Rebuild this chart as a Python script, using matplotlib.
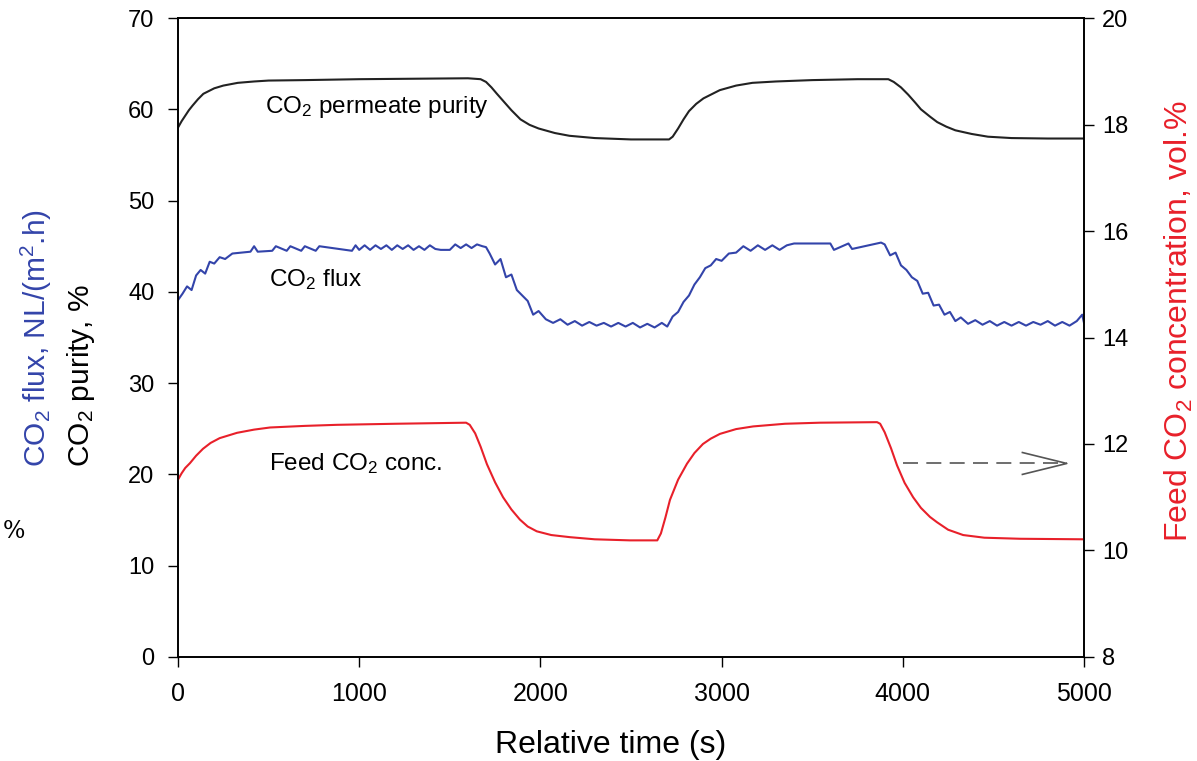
import matplotlib
matplotlib.use('Agg')
import matplotlib.pyplot as plt

plt.rcParams['font.family'] = ['Liberation Sans', 'DejaVu Sans']
plt.rcParams['mathtext.fontset'] = 'custom'
plt.rcParams['mathtext.rm'] = 'Liberation Sans'
plt.rcParams['mathtext.it'] = 'Liberation Sans:italic'

# CO2 permeate purity (%), left axis
purity_t = [0, 20, 40, 60, 80, 110, 140, 170, 200, 250, 330, 420, 500, 700,
            1000, 1300, 1600, 1670, 1700, 1730, 1760, 1800, 1840, 1890, 1940,
            1990, 2080, 2160, 2300, 2500, 2710,
            2730, 2760, 2790, 2820, 2860, 2900, 2950, 2990, 3080, 3170, 3300,
            3500, 3750, 3920,
            3950, 3990, 4030, 4070, 4100, 4150, 4190, 4240, 4290, 4380, 4470,
            4600, 4800, 5000]
purity_v = [58.0, 58.7, 59.3, 59.9, 60.4, 61.1, 61.7, 62.0, 62.3, 62.6, 62.9, 63.05, 63.15, 63.2,
            63.3, 63.35, 63.4, 63.3, 63.0, 62.4, 61.7, 60.8, 59.9, 58.9, 58.3,
            57.9, 57.4, 57.1, 56.85, 56.7, 56.7,
            57.0, 57.9, 58.9, 59.8, 60.6, 61.2, 61.7, 62.1, 62.6, 62.9, 63.05,
            63.2, 63.3, 63.3,
            63.0, 62.4, 61.6, 60.7, 60.0, 59.2, 58.6, 58.1, 57.7, 57.3, 57.0,
            56.85, 56.8, 56.8]

# CO2 flux NL/(m2.h), left axis
flux_t = [0, 25, 50, 75, 100, 125, 150, 175, 200, 230, 260, 300,
          350, 400, 420, 440, 520, 540, 600, 620, 680, 700, 760, 780, 960, 980,
          1000, 1030, 1060, 1090, 1120, 1150, 1180, 1210, 1240, 1270, 1300, 1330,
          1360, 1390, 1420, 1450, 1500, 1530, 1560, 1590, 1620, 1650, 1680, 1700,
          1720, 1750, 1780, 1810, 1840, 1870, 1900, 1930, 1960, 1990,
          2030, 2070, 2110, 2150, 2190, 2230, 2270, 2310, 2350, 2390, 2430, 2470,
          2510, 2550, 2590, 2630, 2670,
          2700, 2730, 2760, 2790, 2820, 2850, 2880, 2910, 2940, 2970, 3000,
          3040, 3080, 3120, 3160, 3200, 3240, 3280, 3320, 3360, 3400,
          3600, 3620, 3700, 3720, 3880, 3900,
          3930, 3960, 3990, 4020, 4050, 4080, 4110, 4140, 4170, 4200, 4230, 4260,
          4290, 4320,
          4360, 4400, 4440, 4480, 4520, 4560, 4600, 4640, 4680, 4720, 4760, 4800,
          4840, 4880, 4920, 4960, 4990, 5000]
flux_v = [39.1, 39.8, 40.6, 40.2, 41.8, 42.4, 42.0, 43.3, 43.1, 43.8, 43.6, 44.2,
          44.3, 44.4, 45.0, 44.4, 44.5, 45.0, 44.5, 45.0, 44.5, 45.0, 44.5, 45.0, 44.5, 45.1,
          44.6, 45.1, 44.6, 45.1, 44.7, 45.1, 44.6, 45.1, 44.7, 45.1, 44.6, 45.0,
          44.6, 45.1, 44.7, 44.6, 44.6, 45.2, 44.8, 45.2, 44.8, 45.2, 45.0, 44.9,
          44.2, 43.0, 43.6, 41.6, 41.9, 40.2, 39.6, 39.0, 37.5, 37.9,
          37.0, 36.6, 37.0, 36.4, 36.8, 36.3, 36.7, 36.3, 36.6, 36.2, 36.6, 36.2,
          36.6, 36.1, 36.5, 36.1, 36.6,
          36.2, 37.3, 37.8, 38.9, 39.6, 40.8, 41.6, 42.6, 42.9, 43.6, 43.4,
          44.2, 44.3, 45.0, 44.5, 45.1, 44.6, 45.1, 44.6, 45.1, 45.3,
          45.3, 44.6, 45.3, 44.7, 45.4, 45.2,
          44.0, 44.3, 42.9, 42.4, 41.6, 41.2, 39.8, 39.9, 38.5, 38.6, 37.5, 37.8,
          36.8, 37.2,
          36.5, 36.9, 36.4, 36.8, 36.3, 36.7, 36.3, 36.7, 36.3, 36.7, 36.4, 36.8,
          36.3, 36.7, 36.3, 36.8, 37.5, 36.6]

# feed CO2 concentration (vol.%), right axis
feed_t = [0, 20, 40, 66, 100, 138, 180, 230, 326, 420, 508, 700, 877, 1200,
          1590, 1610, 1640, 1670, 1705, 1750, 1794, 1840, 1887, 1930, 1980,
          2060, 2163, 2300, 2494, 2645,
          2665, 2690, 2715, 2760, 2809, 2850, 2897, 2940, 2991, 3080, 3174,
          3350, 3543, 3858,
          3875, 3900, 3935, 3968, 4010, 4057, 4100, 4150, 4189, 4250, 4333,
          4450, 4647, 5000]
feed_v = [11.33, 11.45, 11.55, 11.64, 11.78, 11.91, 12.02, 12.11, 12.21, 12.27, 12.31, 12.34, 12.36, 12.38,
          12.40, 12.36, 12.20, 11.95, 11.62, 11.28, 11.00, 10.77, 10.58, 10.45, 10.36,
          10.29, 10.25, 10.21, 10.19, 10.19,
          10.32, 10.62, 10.95, 11.33, 11.63, 11.83, 12.00, 12.10, 12.19, 12.28, 12.33,
          12.38, 12.40, 12.41,
          12.38, 12.22, 11.92, 11.60, 11.27, 11.00, 10.80, 10.63, 10.53, 10.39, 10.29,
          10.24, 10.22, 10.21]

fig = plt.figure(figsize=(11.97, 7.61), dpi=100)
ax = fig.add_axes([0.1487, 0.1367, 0.7569, 0.8396])
ax2 = ax.twinx()

ax.plot(purity_t, purity_v, color='#222222', lw=1.5)
ax.plot(flux_t, flux_v, color='#3344aa', lw=1.5)
ax2.plot(feed_t, feed_v, color='#e8202a', lw=1.5)

ax.set_xlim(0, 5000)
ax.set_ylim(0, 70)
ax2.set_ylim(8, 20)
ax.set_xticks(range(0, 5001, 1000))
ax.set_yticks(range(0, 71, 10))
ax2.set_yticks(range(8, 21, 2))
for a in (ax, ax2):
    a.tick_params(direction='out', length=7, width=1, labelsize=17, pad=6)
    for s in a.spines.values():
        s.set_linewidth(1.2)
ax.tick_params(axis='y', pad=10)
ax.tick_params(axis='x', labelsize=18, pad=11)

ax.set_xlabel('Relative time (s)', fontsize=23)
ax.xaxis.set_label_coords(0.478, -0.115)

# labels inside the plot
ax.text(1100, 60.3, 'CO$_2$ permeate purity', fontsize=17.5, ha='center', va='center')
ax.text(760, 41.3, 'CO$_2$ flux', fontsize=17.5, ha='center', va='center')
ax.text(980, 21.2, 'Feed CO$_2$ conc.', fontsize=17.5, ha='center', va='center')

# dashed arrow pointing to the right axis
ax.plot([4000, 4905], [21.2, 21.2], color='#555555', lw=1.2, dashes=(9, 5))
ax.plot([4660, 4905, 4660], [22.4, 21.2, 20.0], color='#555555', lw=1.2)

# y axis titles
fig.text(0.030, 0.386, 'CO$_2$ flux, NL/(m$^2$.h)', color='#3344aa', fontsize=21.5,
         rotation=90, ha='center', va='bottom')
fig.text(0.068, 0.386, 'CO$_2$ purity, %', color='black', fontsize=21.5,
         rotation=90, ha='center', va='bottom')
fig.text(0.985, 0.578, 'Feed CO$_2$ concentration, vol.%', color='#e8202a', fontsize=23,
         rotation=90, ha='center', va='center')
fig.text(0.002, 0.302, '%', family='DejaVu Serif', fontsize=17, ha='left', va='center')

fig.savefig('out.png', dpi=100)
